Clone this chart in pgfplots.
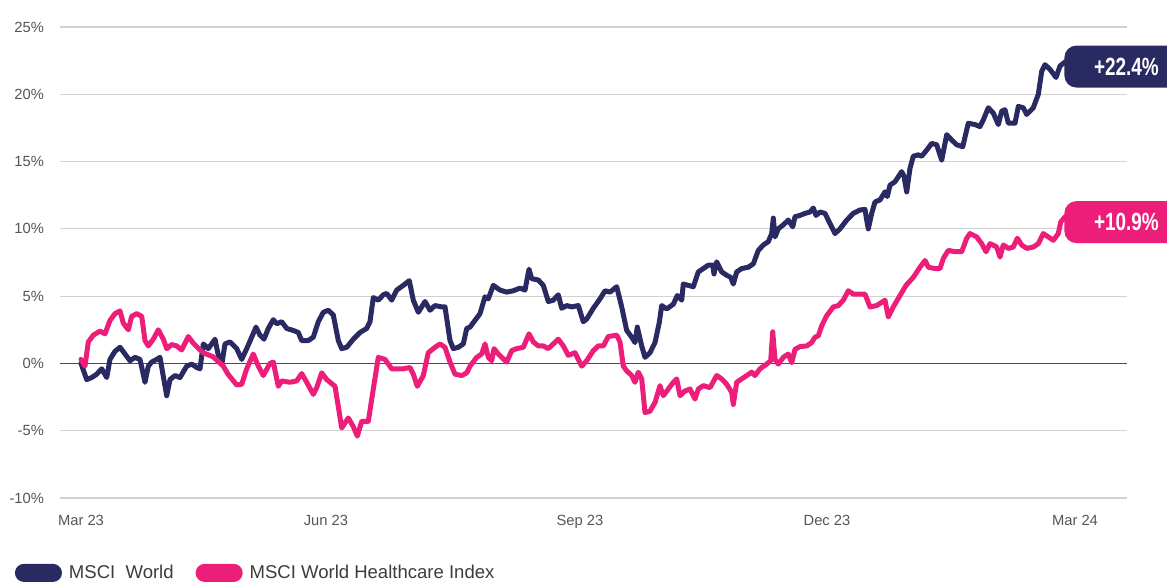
\documentclass[border=0pt]{standalone}
\usepackage{fontspec}
\setmainfont{Liberation Sans}
\usepackage{graphicx}
\usepackage{pgfplots}
\pgfplotsset{compat=1.18}
\definecolor{navy}{RGB}{42,42,99}
\definecolor{hpink}{RGB}{236,30,122}
\definecolor{tickgray}{RGB}{85,85,85}
\definecolor{leggray}{RGB}{60,60,60}
\definecolor{gridgray}{RGB}{210,210,210}

\pgfplotstableread{
x y
0 0
5.7 -1.2
10.7 -1.05
15.7 -0.8
20.7 -0.4
25.7 -1.05
29 0.3
34 0.9
39 1.2
44 0.7
49 0.2
54 0.45
59 0.3
64 -1.4
67.3 -0.2
70.7 0.1
75.7 0.3
79 0.45
85.7 -2.4
89 -1.2
94 -0.9
99 -1.05
105.7 -0.2
110.7 -0.05
115.7 -0.3
119 -0.4
122.3 1.45
127.3 1.1
134 1.8
137.3 0.6
140.7 -0.1
144 1.45
149 1.6
155.7 1.1
160.7 0.3
165.7 1.1
170.7 1.95
175 2.7
179 2.1
183 1.8
187.3 2.6
192.3 3.25
195.7 2.95
200.7 3.1
205.7 2.6
212.3 2.45
217.3 2.3
220.7 1.7
227.3 1.7
232.3 1.95
237.3 3.1
242.3 3.8
247.3 3.95
252.3 3.6
257.3 1.7
260.7 1.1
265.7 1.2
272.3 1.8
279 2.3
285.7 2.6
289 3.1
292.3 4.9
297.3 4.7
302.3 5.1
305.7 5.2
310.7 4.7
315.7 5.45
322.3 5.8
328.3 6.15
332.3 4.7
337.3 3.8
344 4.6
349 3.95
354 4.3
360.7 4.2
364 4.2
369 1.7
372.3 1.1
377.3 1.2
382.3 1.45
385.7 2.6
389 2.7
394 3.2
399 3.7
404 4.95
407.3 4.8
412.3 5.8
419 5.45
425.7 5.3
432.3 5.4
439 5.6
444 5.45
448 7.0
450.7 6.3
457.3 6.2
462.3 5.8
467.3 4.6
472.3 4.7
477.3 5.1
480.7 4.1
485.7 4.3
490.7 4.2
497.3 4.3
502.3 3.1
505.7 3.3
512.3 4.1
519 4.8
524 5.4
529 5.3
535.7 5.7
540.7 4.2
545.7 2.45
550.7 1.95
554 1.55
556.3 2.7
560.7 1.3
564 0.45
569 0.8
574 1.55
578.3 3.05
580.7 4.3
585.7 4.05
592.3 4.4
596.3 5.05
600.7 4.7
602.3 5.9
607.3 5.8
612.3 5.7
617.3 6.8
622.3 7.05
627.3 7.3
631.7 7.3
633 6.65
635.7 7.55
640.7 6.8
645.7 6.55
649.7 6.4
652.3 5.9
655.7 6.8
660.7 7.05
667.3 7.15
672.3 7.4
677.3 8.4
682.3 8.8
687.3 9.05
690.7 9.65
692.3 10.8
694 9.4
697.3 10.0
702.3 10.3
707.3 10.65
711.7 10.15
714 10.9
719 11.0
724 11.15
729 11.25
732.3 11.55
735 11.0
739 11.25
744 11.15
749 10.4
754 9.65
759 10.0
765.7 10.65
772.3 11.15
779 11.4
784 11.45
785.7 10.65
787.3 10.0
790.7 11.15
794 12.0
799 12.15
804 12.75
806.3 12.4
809 13.25
814 13.5
820.7 14.25
823 13.9
825.7 12.75
829 14.5
832.3 15.4
837.3 15.5
840.7 15.4
845.7 15.85
850.7 16.35
855.7 16.25
860.7 15.1
865.7 17.0
870.7 16.6
875.7 16.25
881.7 16.1
887.3 17.85
894 17.75
899 17.6
902.3 18.1
907.3 19.0
912.3 18.6
917.3 17.75
920.7 18.75
924 18.85
927.3 17.85
934 17.85
937.3 19.1
942.3 19.0
945.7 18.5
952.3 19.0
957.3 20.0
960.7 21.7
964 22.2
969 21.85
975 21.25
979 22.1
984 22.4
}\worldtable

\pgfplotstableread{
x y
0 0.3
4 -0.2
7.3 1.6
12.3 2.1
19 2.4
24 2.2
29 3.2
34 3.7
39 3.9
42.3 3.0
47.3 2.5
50.7 3.5
55.7 3.7
60.7 3.5
64 1.7
67.3 1.3
72.3 1.8
77.3 2.5
82.3 1.8
85.7 1.1
90.7 1.4
95.7 1.3
100.7 1.0
107.3 2.0
112.3 1.5
122 0.8
132 0.5
142.3 -0.2
147 -0.8
155.7 -1.6
160.7 -1.55
165.7 -0.4
172.3 0.7
177.3 -0.2
182.3 -0.9
189 0.0
192.3 0.1
197.3 -1.7
200.7 -1.3
209 -1.4
215.7 -1.3
220.7 -0.75
225.7 -1.4
232.3 -2.3
235.7 -1.8
240.7 -0.7
245.7 -1.2
250.7 -1.5
254 -1.7
257.3 -3.2
260.7 -4.8
267.3 -4.05
272.3 -4.7
276.3 -5.4
280.7 -4.3
287.3 -4.3
292.3 -1.9
297.3 0.45
304 0.3
310.7 -0.4
315.7 -0.4
322.3 -0.4
329 -0.3
332.3 -0.8
336.3 -1.7
342.3 -0.9
347.3 0.8
354 1.2
359 1.45
364 1.2
369 0.1
374 -0.8
380.7 -0.9
385.7 -0.7
389 -0.2
395.7 0.45
400.7 0.7
404 1.45
407.3 0.45
410.7 0.2
413 1.1
417.3 0.7
425.7 0.1
430.7 0.95
435.7 1.1
442.3 1.2
448 2.2
452.3 1.6
457.3 1.3
462.3 1.3
467.3 1.1
472.3 1.45
477.3 1.8
482.3 1.3
487.3 0.6
494 0.8
500.7 -0.2
505.7 0.2
512.3 0.95
517.3 1.3
522.3 1.3
527.3 2.0
535.7 2.1
539 1.6
542.3 -0.2
545.7 -0.55
550.7 -0.9
554 -1.4
557.3 -0.65
560.7 -1.15
564 -3.65
569 -3.55
574 -2.9
579 -1.65
582.3 -2.4
587.3 -1.9
592.3 -1.4
595.7 -1.15
599 -2.4
604 -2.05
609 -1.9
614 -2.65
617.3 -1.9
622.3 -1.65
629 -1.8
635.7 -0.9
640.7 -1.15
645.7 -1.55
650.7 -2.15
652.3 -3.05
655.7 -1.4
660.7 -1.15
665.7 -0.9
670.7 -0.65
674 -0.9
679 -0.4
685.7 -0.05
689.7 0.2
691.7 2.35
694 0.3
697.3 -0.05
702.3 0.45
707.3 0.7
710.7 0.05
714 1.05
719 1.25
725.7 1.3
730.7 1.55
734 1.95
737.3 2.05
740.7 2.8
745.7 3.55
752.3 4.2
757.3 4.3
762.3 4.7
767.3 5.4
772.3 5.15
779 5.15
784 5.15
789 4.2
795.7 4.3
804 4.7
807.3 3.45
812.3 4.2
819 5.05
825 5.8
832.3 6.4
839 7.15
844 7.65
847.3 7.15
854 7.05
859 7.05
862.3 7.8
867.3 8.4
874 8.3
880.7 8.3
885.7 9.3
889 9.65
895.7 9.4
900.7 8.9
905 8.3
909 8.9
915.7 8.65
919 7.9
922.3 8.8
927.3 8.55
932.3 8.65
936.3 9.3
940.7 8.8
945.7 8.55
952.3 8.65
957.3 8.9
962.3 9.65
967.3 9.4
972.3 9.15
977.3 9.65
979.7 10.5
984 10.9
}\healthtable

\begin{document}
\begin{tikzpicture}
\begin{axis}[
  scale only axis, width=533.5bp, height=235.5bp,
  xmin=-21, xmax=1046, ymin=-10, ymax=25,
  axis line style={draw=none}, tick style={draw=none},
  ytick={-10,-5,0,5,10,15,20,25},
  yticklabels={-10\%,-5\%,0\%,5\%,10\%,15\%,20\%,25\%},
  xtick={0,245,499,746,994},
  xticklabels={Mar 23,Jun 23,Sep 23,Dec 23,Mar 24},
  ymajorgrids, major grid style={gridgray, line width=0.6bp},
  ticklabel style={font=\fontsize{7.4}{8}\selectfont, text=tickgray},
  /pgf/number format/assume math mode=true,
  yticklabel style={xshift=-4.5bp},
  xticklabel style={yshift=-5bp},
  clip=false,
  legend columns=2,
  legend style={at={(axis description cs:-0.0422,-0.159)}, anchor=west,
    draw=none, fill=none, inner sep=0pt, outer sep=0pt,
    font=\fontsize{9.3}{11}\selectfont, text=leggray,
    nodes={inner sep=0pt},
    /tikz/every odd column/.append style={column sep=3.5bp},
    /tikz/every even column/.append style={column sep=11bp}},
  legend image code/.code={\fill[rounded corners=3.25bp] (0bp,-3.0bp) rectangle (21bp,3.5bp);},
]
\addplot[black!70, line width=0.6bp, forget plot] coordinates {(-21,0) (1046,0)};
\addplot[navy, line width=2.5bp, line join=round, line cap=round] table[x=x,y=y] {\worldtable};
\addlegendentry{MSCI\ \ World}
\addplot[hpink, line width=2.5bp, line join=round, line cap=round] table[x=x,y=y] {\healthtable};
\addlegendentry{MSCI World Healthcare Index}
\node[fill=navy, text=white, rounded corners=6bp, anchor=west, minimum height=21bp, minimum width=62bp, inner sep=0pt] at (axis cs:983,22.06) {\scalebox{0.76}[1]{\fontsize{12.5}{12.5}\selectfont\bfseries +22.4\%}};
\node[fill=hpink, text=white, rounded corners=6bp, anchor=west, minimum height=21bp, minimum width=62bp, inner sep=0pt] at (axis cs:983,10.5) {\scalebox{0.76}[1]{\fontsize{12.5}{12.5}\selectfont\bfseries +10.9\%}};
\end{axis}
\pgfresetboundingbox
\useasboundingbox (-30bp,-42.5bp) rectangle (553.5bp,249bp);
\end{tikzpicture}
\end{document}
